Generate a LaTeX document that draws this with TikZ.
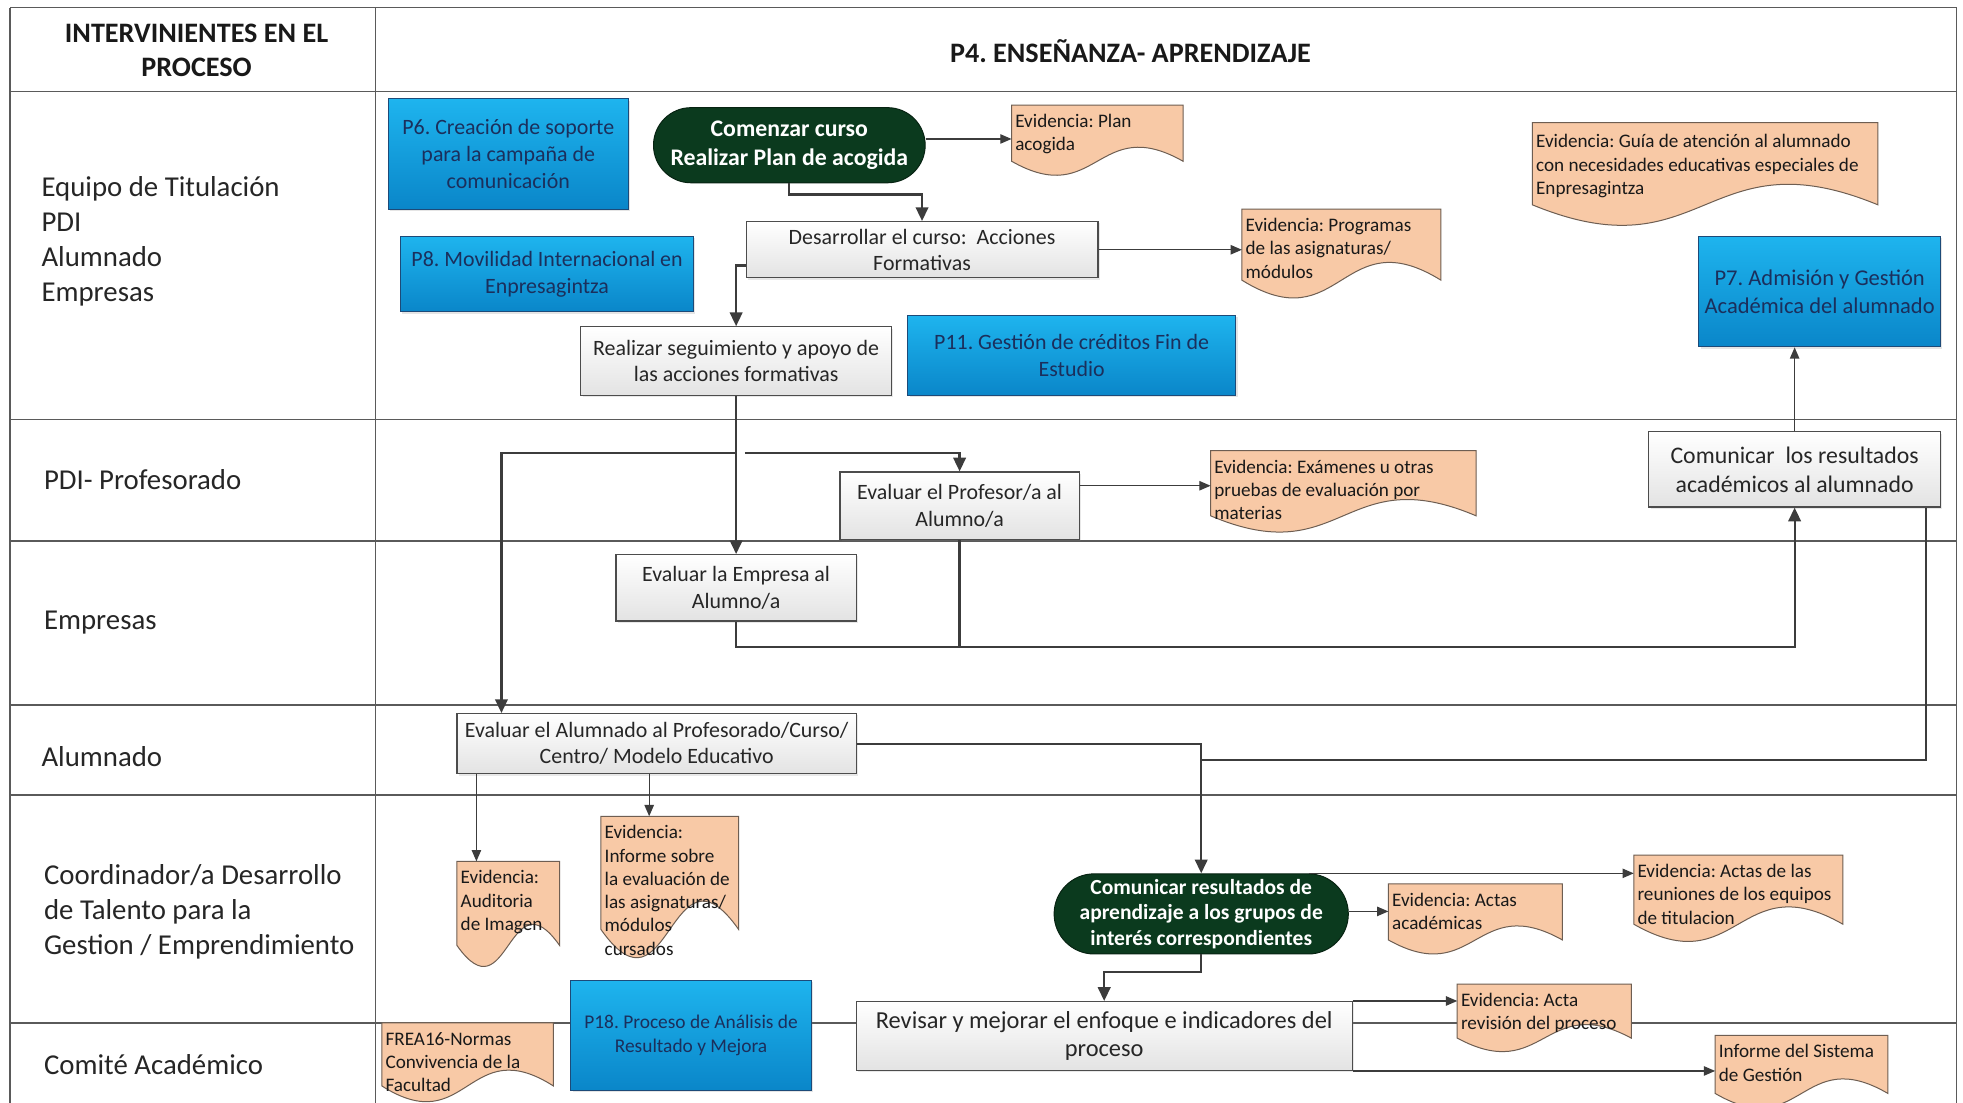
\documentclass[tikz,border=0pt]{standalone}
\usepackage{fontspec}
\setmainfont{Carlito}
\usetikzlibrary{arrows.meta,calc,shadows}

\definecolor{laneline}{HTML}{5A5A5A}
\definecolor{flowc}{HTML}{3C3C3C}
\definecolor{peach}{HTML}{F8C9A6}
\definecolor{peachline}{HTML}{6E5E52}
\definecolor{bluetop}{HTML}{1EB4EE}
\definecolor{bluebot}{HTML}{0A86C9}
\definecolor{blueline}{HTML}{1D4A78}
\definecolor{bluetext}{HTML}{1B2F5C}
\definecolor{darkgreen}{HTML}{0B3A1E}

\newcommand\fsz[2]{\fontsize{#1pt}{#2pt}\selectfont}
% text block for the document symbols: width, height, lines
\newcommand\doctxt[3]{\parbox[t][#2pt][t]{#1pt}{\raggedright\rule{0pt}{15pt}#3}}

% document symbol: flat top, straight sides, wavy bottom edge
\makeatletter
\pgfdeclareshape{docwave}{%
  \inheritsavedanchors[from=rectangle]%
  \inheritanchorborder[from=rectangle]%
  \inheritanchor[from=rectangle]{center}%
  \inheritanchor[from=rectangle]{north}%
  \inheritanchor[from=rectangle]{south}%
  \inheritanchor[from=rectangle]{east}%
  \inheritanchor[from=rectangle]{west}%
  \inheritanchor[from=rectangle]{north east}%
  \inheritanchor[from=rectangle]{north west}%
  \inheritanchor[from=rectangle]{south east}%
  \inheritanchor[from=rectangle]{south west}%
  \inheritanchor[from=rectangle]{text}%
  \inheritanchor[from=rectangle]{base}%
  \inheritanchor[from=rectangle]{mid}%
  \backgroundpath{%
    \southwest \edef\dw@xa{\the\pgf@x}\edef\dw@ya{\the\pgf@y}%
    \northeast \edef\dw@xb{\the\pgf@x}\edef\dw@yb{\the\pgf@y}%
    \pgfmathsetmacro\dw@xm{(\dw@xa+\dw@xb)/2}%
    \pgfmathsetmacro\dw@d{0.2*(\dw@yb-\dw@ya)}%
    \pgfmathsetmacro\dw@ye{\dw@ya+\dw@d}%
    \pgfmathsetmacro\dw@yh{\dw@ya+4.464*\dw@d}%
    \pgfmathsetmacro\dw@yl{\dw@ya-2.464*\dw@d}%
    \pgfpathmoveto{\pgfpoint{\dw@xa}{\dw@yb}}%
    \pgfpathlineto{\pgfpoint{\dw@xb}{\dw@yb}}%
    \pgfpathlineto{\pgfpoint{\dw@xb}{\dw@ye pt}}%
    \pgfpathcurveto{\pgfpoint{\dw@xm pt}{\dw@yh pt}}{\pgfpoint{\dw@xm pt}{\dw@yl pt}}{\pgfpoint{\dw@xa}{\dw@ye pt}}%
    \pgfpathclose
  }%
}
\makeatother

\pgfdeclarelayer{lanes}
\pgfsetlayers{lanes,main}

\tikzset{
  lane/.style={draw=laneline, line width=1.1pt},
  lanelabel/.style={anchor=west, align=left, inner sep=0pt, font=\fsz{23}{28}, text=black!85},
  headtxt/.style={align=center, inner sep=0pt, font=\bfseries\fsz{22.5}{27}, text=black!90},
  procbox/.style={draw=black!70, line width=0.9pt, top color=white, bottom color=black!11,
    align=center, inner sep=1pt, font=\fsz{17.5}{21}, text=black!85,
    drop shadow={opacity=0.18, shadow xshift=1.5pt, shadow yshift=-1.5pt}},
  subproc/.style={draw=blueline, line width=0.9pt, top color=bluetop, bottom color=bluebot,
    align=center, inner sep=1pt, font=\fsz{17.5}{21.5}, text=bluetext,
    drop shadow={opacity=0.2, shadow xshift=1.5pt, shadow yshift=-1.5pt}},
  terminal/.style={draw=darkgreen!60!black, line width=0.8pt, fill=darkgreen, text=white,
    align=center, inner sep=1pt},
  doc/.style={shape=docwave, draw=peachline, line width=0.8pt, fill=peach,
    inner xsep=3pt, inner ysep=3pt, outer sep=0pt, anchor=north west,
    font=\fsz{15.3}{18.6}, text=black!90},
  flowarrow/.style={draw=flowc, line width=1.8pt, -{Triangle[length=11pt,width=10pt]}},
  flowline/.style={draw=flowc, line width=1.8pt},
  evid/.style={draw=flowc, line width=1pt, -{Triangle[length=9pt,width=7.5pt]}}
}

\begin{document}
\frenchspacing
\begin{tikzpicture}[x=1pt,y=-1pt]
\useasboundingbox (0,0) rectangle (1568,881);

% swimlane grid
\begin{pgfonlayer}{lanes}
  \fill[white] (0,0) rectangle (1568,881);
  \draw[lane] (8,6) -- (1563,6);
  \foreach \yy in {73,335,432,563,635,817} \draw[lane] (8,\yy) -- (1563,\yy);
  \draw[lane] (8,6) -- (8,890);
  \draw[lane] (300,6) -- (300,890);
  \draw[lane] (1563,6) -- (1563,890);
\end{pgfonlayer}

% header
\node[headtxt] (hleft) at (157,40.5) {INTERVINIENTES EN EL\\PROCESO};
\node[headtxt] (hright) at (903,41) {P4. ENSEÑANZA- APRENDIZAJE};

% lane labels
\node[lanelabel] (l1) at (33,193) {Equipo de Titulación\\PDI\\Alumnado\\Empresas};
\node[lanelabel] (l2) at (35,383) {PDI- Profesorado};
\node[lanelabel] (l3) at (35,497) {Empresas};
\node[lanelabel] (l4) at (33,604) {Alumnado};
\node[lanelabel] (l5) at (35,728) {Coordinador/a Desarrollo\\de Talento para la\\Gestion / Emprendimiento};
\node[lanelabel] (l6) at (35,850) {Comité Académico};

% lane 1
\node[subproc, minimum width=192pt, minimum height=88pt] (p6) at (406,123)
  {P6. Creación de soporte\\para la campaña de\\comunicación};
\node[terminal, rounded corners=30pt, minimum width=217pt, minimum height=60pt,
  font=\bfseries\fsz{19}{23.5}] (com) at (630.5,116) {Comenzar curso\\Realizar Plan de acogida};
\node[doc] (pa) at (808,84) {\doctxt{131}{50}{Evidencia: Plan\\acogida}};
\node[procbox, minimum width=281pt, minimum height=45pt] (des) at (736.5,199.5)
  {Desarrollar el curso:\ \ Acciones\\Formativas};
\node[doc] (prog) at (992,167) {\doctxt{153}{65}{Evidencia: Programas\\de las asignaturas/\\módulos}};
\node[doc] (guia) at (1224,98) {\doctxt{270}{76}{\rule{0pt}{17pt}Evidencia: Guía de atención al alumnado\\con necesidades educativas especiales de\\Enpresagintza}};
\node[subproc, minimum width=234pt, minimum height=60pt] (p8) at (437,219)
  {P8. Movilidad Internacional en\\Enpresagintza};
\node[procbox, minimum width=248pt, minimum height=55pt] (rea) at (588,288.5)
  {Realizar seguimiento y apoyo de\\las acciones formativas};
\node[subproc, minimum width=262pt, minimum height=64pt] (p11) at (856,284)
  {P11. Gestión de créditos Fin de\\Estudio};
\node[subproc, minimum width=193pt, minimum height=88pt, font=\fsz{18}{22}] (p7) at (1453.5,233)
  {P7. Admisión y Gestión\\Académica del alumnado};

% lane 2
\node[procbox, minimum width=191pt, minimum height=54pt, font=\fsz{17.5}{21}] (prof) at (766.5,404)
  {Evaluar el Profesor/a al\\Alumno/a};
\node[doc] (exa) at (967,360) {\doctxt{206}{59}{Evidencia: Exámenes u otras\\pruebas de evaluación por\\materias}};
\node[procbox, minimum width=233pt, minimum height=60pt, font=\fsz{19}{23}] (cacad) at (1433.5,375)
  {Comunicar\ \ los resultados\\académicos al alumnado};

% lane 3
\node[procbox, minimum width=192pt, minimum height=53pt] (emp) at (588,469.5)
  {Evaluar la Empresa al\\Alumno/a};

% lane 4
\node[procbox, minimum width=319pt, minimum height=48pt] (ealu) at (524.5,594)
  {Evaluar el Alumnado al Profesorado/Curso/\\Centro/ Modelo Educativo};

% lane 5
\node[doc] (aud) at (365,688) {\doctxt{76}{78}{Evidencia:\\Auditoria\\de Imagen}};
\node[doc] (inf) at (480,652) {\doctxt{104}{107}{Evidencia:\\Informe sobre\\la evaluación de\\las asignaturas/\\módulos\\cursados}};
\node[terminal, rounded corners=32pt, minimum width=235pt, minimum height=64pt,
  font=\bfseries\fsz{17.2}{20.5}] (capr) at (959.5,730)
  {Comunicar resultados de\\aprendizaje a los grupos de\\interés correspondientes};
\node[doc] (aacad) at (1109,706) {\doctxt{133}{50}{Evidencia: Actas\\académicas}};
\node[doc] (areu) at (1305,683) {\doctxt{161}{63}{Evidencia: Actas de las\\reuniones de los equipos\\de titulacion}};

% lane 6
\node[subproc, minimum width=192pt, minimum height=88pt, font=\fsz{15.5}{19}] (p18) at (552,827)
  {P18. Proceso de Análisis de\\Resultado y Mejora};
\node[doc] (frea) at (305,817) {\doctxt{131}{57}{FREA16-Normas\\Convivencia de la\\Facultad}};
\node[procbox, minimum width=396pt, minimum height=55pt, font=\fsz{19.5}{23}] (rev) at (882,827.5)
  {Revisar y mejorar el enfoque e indicadores del\\proceso};
\node[doc] (arev) at (1164,786) {\doctxt{133}{48}{Evidencia: Acta\\revisión del proceso}};
\node[doc] (isg) at (1370,827) {\doctxt{132}{52}{Informe del Sistema\\de Gestión}};

% helper levels for the orthogonal connectors
\coordinate (ybr) at (0,362);
\coordinate (brj) at (595,362);
\coordinate (ymeet) at (0,517);
\coordinate (yjoin) at (0,607);

% connectors
\draw[evid] ([yshift=5pt]com.east) -- ([yshift=5pt]com.east -| pa.west);
\draw[flowarrow] (com.south) -- ++(0,9) -| (des.north);
\draw[flowarrow] ([yshift=-12.5pt]des.west) -| (rea.north);
\draw[evid] (des.east) -- (des.east -| prog.west);
\draw[flowarrow] (rea.south) -- (emp.north);
\draw[flowarrow] (rea.south |- ybr) -| ([xshift=36pt]ealu.north west);
\draw[flowarrow] (brj) -| (prof.north);
\draw[evid] ([yshift=16pt]prof.east) -- ([yshift=16pt]prof.east -| exa.west);
\draw[flowline] (prof.south) -- (prof.south |- ymeet);
\draw[flowarrow] (emp.south) |- (cacad.south |- ymeet) -- (cacad.south);
\draw[evid] (cacad.north) -- (cacad.north |- p7.south);
\draw[flowarrow] (ealu.east) -| (capr.north);
\draw[flowline] ([xshift=-12pt]cacad.south east) |- (capr.north |- yjoin);
\draw[evid] ([xshift=16pt]ealu.south west) -- ([xshift=16pt]ealu.south west |- aud.north);
\draw[evid] ([xshift=154pt]ealu.south west) -- ([xshift=154pt]ealu.south west |- inf.north);
\draw[evid] ([yshift=2pt]capr.east) -- ([yshift=2pt]capr.east -| aacad.west);
\draw[evid] ([xshift=-32pt]capr.north east) -- (capr.north east -| areu.west);
\draw[flowarrow] (capr.south) -- ++(0,14) -| (rev.north);
\draw[evid] (rev.north east) -- (rev.north east -| arev.west);
\draw[evid] (rev.south east) -- (rev.south east -| isg.west);
\end{tikzpicture}
\end{document}
